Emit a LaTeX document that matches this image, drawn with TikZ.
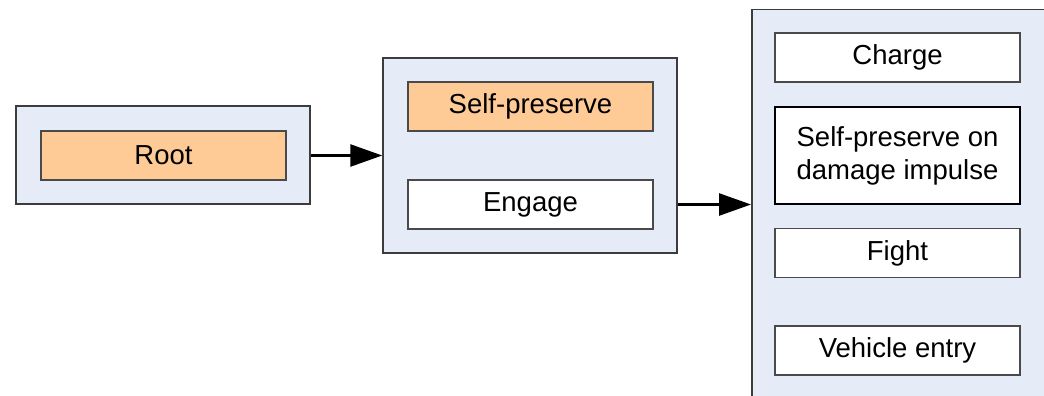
\documentclass[tikz,border=0pt]{standalone}
\usepackage{fontspec}
\setmainfont{Liberation Sans}
\usetikzlibrary{arrows.meta}
\definecolor{groupfill}{HTML}{E6ECF7}
\definecolor{activefill}{HTML}{FECB97}
\definecolor{groupline}{HTML}{3C3C3C}
\definecolor{itemline}{HTML}{4A4A4A}
\begin{document}
\begin{tikzpicture}[x=1pt,y=-1pt,
  every node/.style={font=\fontsize{27.5}{33}\selectfont, inner sep=0pt, align=center},
  group/.style={draw=groupline, fill=groupfill, line width=1.5pt, rectangle},
  item/.style={draw=itemline, fill=white, line width=1.2pt, rectangle,
               minimum width=245pt, minimum height=49pt},
  active/.style={item, fill=activefill},
  focus/.style={item, draw=black, line width=2.5pt, minimum height=97pt},
  link/.style={line width=2.6pt, -{Triangle[length=32pt, width=22pt]}}
]
\useasboundingbox (0,0) rectangle (1044,396);
\fill[white] (0,0) rectangle (1044,396);
\begin{scope}
\clip (0,0) rectangle (1044,396);

% group containers
\node[group, minimum width=294pt, minimum height=98pt] (rootgrp) at (163,155) {};
\node[group, minimum width=294pt, minimum height=195pt] (midgrp) at (530,155.5) {};
\node[group, minimum width=292.5pt, minimum height=420pt, anchor=north west] (rightgrp) at (751,9) {};

% behaviour items
\node[active] (root) at (163.5,155.5) {Root};
\node[active] (selfp) at (530.5,106.5) {Self-preserve};
\node[item] (engage) at (530.5,204.5) {Engage};
\node[item] (charge) at (897.5,57.5) {Charge};
\node[focus] (damage) at (897.5,155.5) {Self-preserve on\\damage impulse};
\node[item] (fight) at (897.5,253) {Fight};
\node[item] (vehicle) at (897.5,350.5) {Vehicle entry};

% connectors between the groups
\draw[link] (root.east -| rootgrp.east) -- (root.east -| midgrp.west);
\draw[link] (engage.east -| midgrp.east) -- (engage.east -| rightgrp.west);
\end{scope}
\end{tikzpicture}
\end{document}
